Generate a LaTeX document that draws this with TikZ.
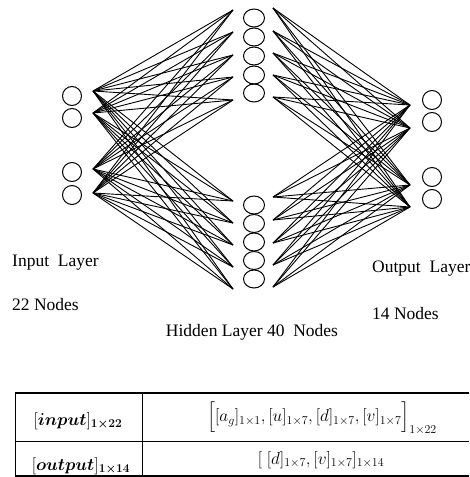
\documentclass[tikz,border=0pt]{standalone}
\usepackage{amsmath, amssymb}
\usepackage{fontspec}
\setmainfont{Liberation Serif}
\usepackage{tikz}
\usetikzlibrary{shapes.geometric}

\begin{document}
\begin{tikzpicture}[
    x=1pt, y=-1pt,
    neuron/.style={circle, draw, line width=1pt, minimum size=19pt, inner sep=0pt},
    hidden/.style={ellipse, draw, line width=1pt, minimum width=21pt, minimum height=18pt, inner sep=0pt},
    link/.style={line width=0.9pt},
    laytext/.style={font=\fontsize{17.5}{20}\selectfont, anchor=base west, inner sep=0pt},
    cell/.style={font=\fontsize{17}{20}\selectfont, inner sep=0pt}
]
    \useasboundingbox (0,0) rectangle (469,477);

    % input layer
    \node[neuron] (in1) at (72, 96) {};
    \node[neuron] (in2) at (72, 118) {};
    \node[neuron] (in3) at (72, 172) {};
    \node[neuron] (in4) at (72, 195) {};
    \coordinate (ia1) at (93, 91);
    \coordinate (ia2) at (93, 113);
    \coordinate (ia3) at (93, 169);
    \coordinate (ia4) at (93, 193);

    % hidden layer
    \foreach \y [count=\i] in {18,37,56,75,93,205,223.5,242,260.5,279}
        \node[hidden] (h\i) at (254, \y) {};
    \foreach \y [count=\i] in {10,32,55,77,100,201,223,245,267,289}
        \coordinate (hl\i) at (233, \y);
    \foreach \y [count=\i] in {8,31,53,75,97,197,220,243,265,287}
        \coordinate (hr\i) at (273, \y);

    % output layer
    \node[neuron] (out1) at (432, 100) {};
    \node[neuron] (out2) at (432, 122) {};
    \node[neuron] (out3) at (432, 177) {};
    \node[neuron] (out4) at (432, 199) {};
    \coordinate (oa1) at (410, 105);
    \coordinate (oa2) at (410, 128);
    \coordinate (oa3) at (410, 185);
    \coordinate (oa4) at (410, 207);

    % weights
    \foreach \a in {1,...,4}
        \foreach \b in {1,...,10} {
            \draw[link] (ia\a) -- (hl\b);
            \draw[link] (hr\b) -- (oa\a);
        }

    % layer captions
    \node[laytext] (inlab) at (12, 266) {Input~~Layer};
    \node[laytext] (innum) at (12, 310) {22 Nodes};
    \node[laytext] (outlab) at (372, 272) {Output~~Layer};
    \node[laytext] (outnum) at (372, 319) {14 Nodes};
    \node[laytext, anchor=base] (hidlab) at (252, 336) {Hidden Layer 40~~Nodes};

    % table
    \draw[line width=1.2pt] (15, 393) -- (469, 393);
    \draw[line width=0.9pt] (15, 441) -- (469, 441);
    \draw[line width=1.2pt] (15, 476) -- (469, 476);
    \draw[line width=0.9pt] (15, 393) -- (15, 476);
    \draw[line width=0.9pt] (142, 393) -- (142, 476);

    \node[cell] (tin) at (78, 421) {$[\boldsymbol{input}]_{\boldsymbol{1\times22}}$};
    \node[cell] (tout) at (81, 466) {$[\boldsymbol{output}]_{\boldsymbol{1\times14}}$};
    \node[cell] (vin) at (322, 418) {$\Big[[a_g]_{1\times1}, [u]_{1\times7}, [d]_{1\times7}, [v]_{1\times7}\Big]_{1\times22}$};
    \node[cell] (vout) at (321, 460) {$[\;[d]_{1\times7}, [v]_{1\times7}]_{1\times14}$};
\end{tikzpicture}
\end{document}
